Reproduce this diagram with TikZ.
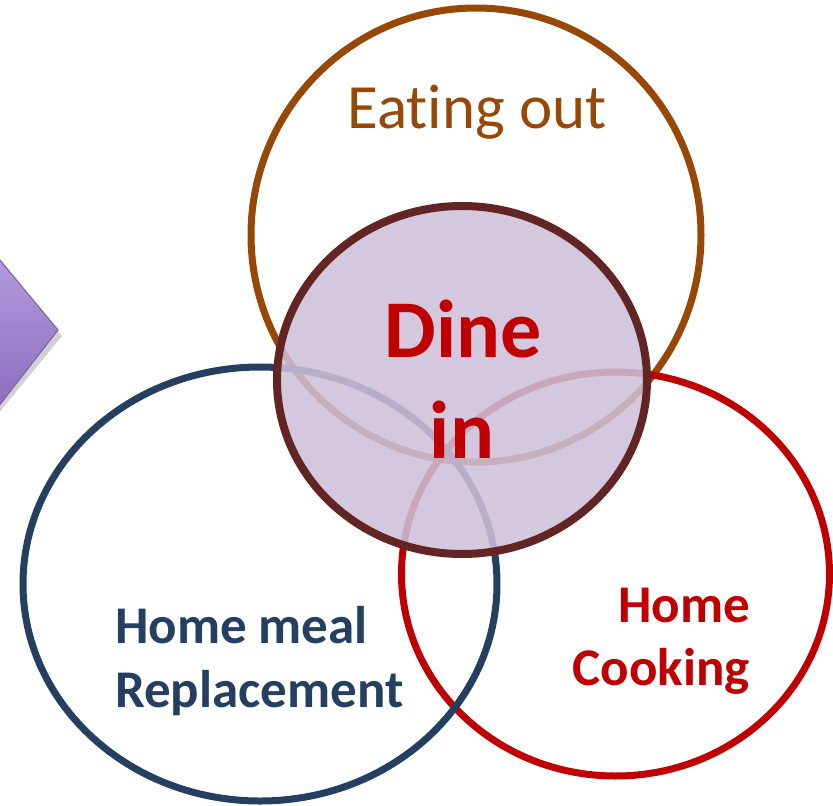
\documentclass[tikz,border=0pt]{standalone}
\usepackage{fontspec}
\setmainfont[Ligatures={NoCommon}]{Carlito}
\definecolor{eatc}{RGB}{152,72,6}
\definecolor{dinec}{RGB}{99,37,35}
\definecolor{dinefill}{RGB}{205,192,217}
\definecolor{redc}{RGB}{192,0,0}
\definecolor{bluec}{RGB}{36,63,96}
\definecolor{chtop}{RGB}{185,165,228}
\definecolor{chbot}{RGB}{132,98,182}
\definecolor{chline}{RGB}{122,92,168}
\tikzset{
  ring/.style={line width=7pt},
  lbl/.style={inner sep=0pt, font=\bfseries\fontsize{53}{63}\selectfont}
}
\begin{document}
\begin{tikzpicture}[x=1pt,y=-1pt]
\useasboundingbox (0,0) rectangle (833,806);
% chevron (partly off the page)
\fill[black,opacity=0.18] (-30,228) -- (62,336) -- (-30,448) -- cycle;
\shade[top color=chtop,bottom color=chbot,draw=chline,line width=1pt]
  (-30,224) -- (58,330) -- (-30,443) -- cycle;
% circles
\draw[ring,eatc] (476,235) ellipse [x radius=225, y radius=227] node[coordinate] (eat) {};
\draw[ring,redc] (615.5,574) ellipse [x radius=214, y radius=202] node[coordinate] (cook) {};
\draw[ring,bluec] (260,584) ellipse [x radius=237, y radius=217] node[coordinate] (hmr) {};
\draw[line width=8pt,dinec,fill=dinefill,fill opacity=0.87] (462,380) ellipse [x radius=185, y radius=174] node[coordinate] (dine) {};
% labels
\node[anchor=base,inner sep=0pt,text=eatc,font=\fontsize{63}{70}\selectfont] (eatlbl) at (477,128) {Eating out};
\node[anchor=base,inner sep=0pt,text=redc,font=\bfseries\fontsize{82}{101}\selectfont] (dine1) at (463,357) {Dine};
\node[anchor=base,inner sep=0pt,text=redc,font=\bfseries\fontsize{82}{101}\selectfont] (dine2) at (462,458) {in};
\node[lbl,anchor=base west,text=bluec] (hmr1) at (115,643) {Home meal};
\node[lbl,anchor=base west,text=bluec] (hmr2) at (115,707) {Replacement};
\node[lbl,anchor=base east,text=redc] (hc1) at (750,622) {Home};
\node[lbl,anchor=base east,text=redc] (hc2) at (750,685) {Cooking};
\end{tikzpicture}
\end{document}
